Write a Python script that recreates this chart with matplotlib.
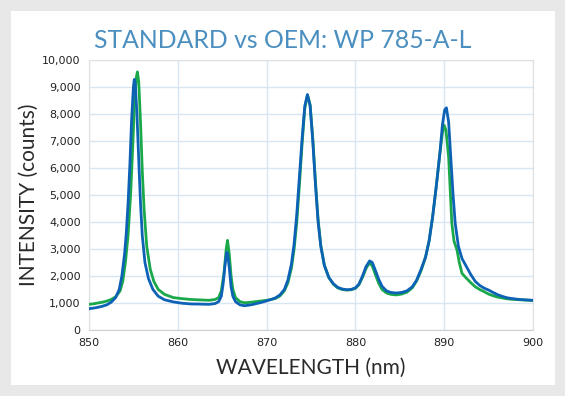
import matplotlib
matplotlib.use("Agg")
import matplotlib.pyplot as plt
from matplotlib.patches import Rectangle

# OEM (blue) spectrum
oem_nm = [850.0, 850.5, 851.0, 851.5, 852.0, 852.5, 853.0, 853.4, 853.7, 854.0,
          854.2, 854.4, 854.6, 854.8, 855.0, 855.1, 855.2, 855.4, 855.6, 855.8,
          856.0, 856.3, 856.7, 857.2, 857.8, 858.5, 859.5, 860.5, 861.5, 862.5,
          863.5, 864.2, 864.6, 864.9, 865.1, 865.3, 865.5, 865.6, 865.8, 866.0,
          866.2, 866.5, 867.0, 867.5, 868.0, 868.5, 869.0, 869.5, 870.0, 870.5,
          871.0, 871.5, 872.0, 872.4, 872.8, 873.1, 873.4, 873.7, 874.0, 874.3,
          874.6, 874.9, 875.2, 875.5, 875.8, 876.1, 876.5, 877.0, 877.5, 878.0,
          878.5, 879.0, 879.5, 880.0, 880.4, 880.8, 881.2, 881.6, 881.9, 882.2,
          882.6, 883.0, 883.5, 884.0, 884.6, 885.2, 885.8, 886.4, 886.9, 887.4,
          887.9, 888.3, 888.7, 889.1, 889.5, 889.8, 890.05, 890.25, 890.5, 890.74,
          891.0, 891.24, 891.6, 892.0, 892.5, 893.0, 893.5, 894.0, 894.5, 895.0,
          895.5, 896.0, 896.5, 897.0, 897.5, 898.0, 898.5, 899.0, 899.5, 900.0]
oem_counts = [790, 810, 840, 880, 930, 1030, 1200, 1500, 2000, 2800,
              3600, 4700, 6100, 7800, 9000, 9280, 9150, 8000, 6300, 4700,
              3500, 2500, 1900, 1500, 1250, 1120, 1040, 990, 965, 960,
              950, 980, 1050, 1250, 1700, 2350, 2870, 2850, 2300, 1600,
              1250, 1050, 930, 900, 920, 950, 990, 1030, 1080, 1130,
              1190, 1300, 1500, 1850, 2450, 3200, 4300, 5700, 7100, 8300,
              8720, 8300, 7000, 5400, 4000, 3100, 2400, 1950, 1720, 1580,
              1520, 1490, 1500, 1560, 1700, 2000, 2350, 2560, 2500, 2250,
              1900, 1620, 1450, 1390, 1370, 1390, 1450, 1600, 1850, 2250,
              2700, 3300, 4200, 5300, 6500, 7600, 8150, 8230, 7700, 6400,
              5000, 3950, 3100, 2650, 2350, 2050, 1800, 1650, 1550, 1480,
              1390, 1310, 1250, 1200, 1170, 1150, 1130, 1120, 1110, 1100]

# STANDARD (green) spectrum
std_nm = [850.0, 850.5, 851.0, 851.5, 852.0, 852.5, 853.0, 853.5, 853.8, 854.1,
          854.4, 854.7, 854.9, 855.1, 855.3, 855.45, 855.6, 855.8, 856.0, 856.2,
          856.5, 856.9, 857.3, 857.8, 858.5, 859.5, 860.5, 861.5, 862.5, 863.5,
          864.2, 864.6, 864.9, 865.2, 865.45, 865.6, 865.8, 866.0, 866.2, 866.5,
          867.0, 867.5, 868.0, 868.5, 869.0, 869.5, 870.0, 870.5, 871.0, 871.5,
          872.0, 872.4, 872.8, 873.1, 873.4, 873.7, 874.0, 874.3, 874.6, 874.9,
          875.2, 875.5, 875.8, 876.1, 876.5, 877.0, 877.5, 878.0, 878.5, 879.0,
          879.5, 880.0, 880.4, 880.8, 881.2, 881.55, 881.9, 882.2, 882.6, 883.0,
          883.5, 884.0, 884.6, 885.2, 885.8, 886.4, 886.9, 887.4, 887.9, 888.3,
          888.7, 889.1, 889.5, 889.8, 890.0, 890.2, 890.5, 890.86, 891.1, 891.45,
          891.7, 892.0, 892.4, 893.0, 893.5, 894.0, 894.5, 895.0, 895.5, 896.0,
          896.5, 897.0, 897.5, 898.0, 898.5, 899.0, 900.0]
std_counts = [950, 970, 1000, 1030, 1070, 1130, 1230, 1450, 1800, 2500,
              3500, 5100, 6600, 8200, 9300, 9560, 9200, 7700, 5900, 4500,
              3100, 2250, 1800, 1500, 1320, 1200, 1160, 1130, 1115, 1100,
              1130, 1200, 1450, 2100, 3000, 3320, 2800, 2000, 1500, 1200,
              1050, 1010, 1020, 1040, 1060, 1080, 1100, 1130, 1170, 1260,
              1450, 1750, 2300, 3000, 4000, 5400, 6900, 8200, 8700, 8350,
              7100, 5500, 4100, 3150, 2400, 1950, 1700, 1560, 1500, 1480,
              1490, 1540, 1680, 1950, 2280, 2470, 2380, 2100, 1750, 1500,
              1370, 1320, 1300, 1330, 1400, 1560, 1820, 2200, 2700, 3300,
              4200, 5300, 6500, 7300, 7580, 7400, 6400, 3950, 3300, 2950,
              2500, 2100, 1950, 1750, 1600, 1500, 1420, 1330, 1270, 1220,
              1190, 1160, 1140, 1130, 1120, 1110, 1090]

x_ticks = [850, 860, 870, 880, 890, 900]
y_ticks = list(range(0, 10001, 1000))

fig = plt.figure(figsize=(5.65, 3.96), dpi=100)
fig.patch.set_facecolor("#e8e8e8")
fig.patches.append(Rectangle((11 / 565, 11 / 396), 544 / 565, 374 / 396,
                             transform=fig.transFigure, facecolor="white",
                             edgecolor="none", zorder=-5))

ax = fig.add_axes([89 / 565, 1 - 330 / 396, 444 / 565, 270 / 396])
ax.set_zorder(2)
ax.set_facecolor("white")

ax.plot(std_nm, std_counts, color="#1aa84b", lw=2.0, zorder=3)
ax.plot(oem_nm, oem_counts, color="#0d62b6", lw=2.0, zorder=4)

ax.set_xlim(850, 900)
ax.set_ylim(0, 10000)
ax.set_xticks(x_ticks)
ax.set_yticks(y_ticks)
ax.set_yticklabels([f"{v:,}" for v in y_ticks])
ax.grid(True, color="#d8e6f3", lw=1.0)
ax.set_axisbelow(True)
ax.tick_params(length=0, labelsize=8, colors="#222222", pad=6)
for s in ["top", "right", "left"]:
    ax.spines[s].set_color("#e0e0e0")
ax.spines["bottom"].set_color("#cfcfcf")

ax.set_xlabel("WAVELENGTH (nm)", fontsize=15, color="#2a2a2a", family="Lato")
ax.set_ylabel("INTENSITY (counts)", fontsize=15, color="#2a2a2a", family="Lato")
ax.xaxis.set_label_coords(0.5, -0.105)
ax.yaxis.set_label_coords(-0.112, 0.5)
fig.text(0.5, 1 - 40 / 396, "STANDARD vs OEM: WP 785-A-L", ha="center",
         va="center", fontsize=17.8, color="#4a8fbf", family="Lato",
         zorder=3)

fig.savefig("out.png", dpi=100, facecolor=fig.get_facecolor())
